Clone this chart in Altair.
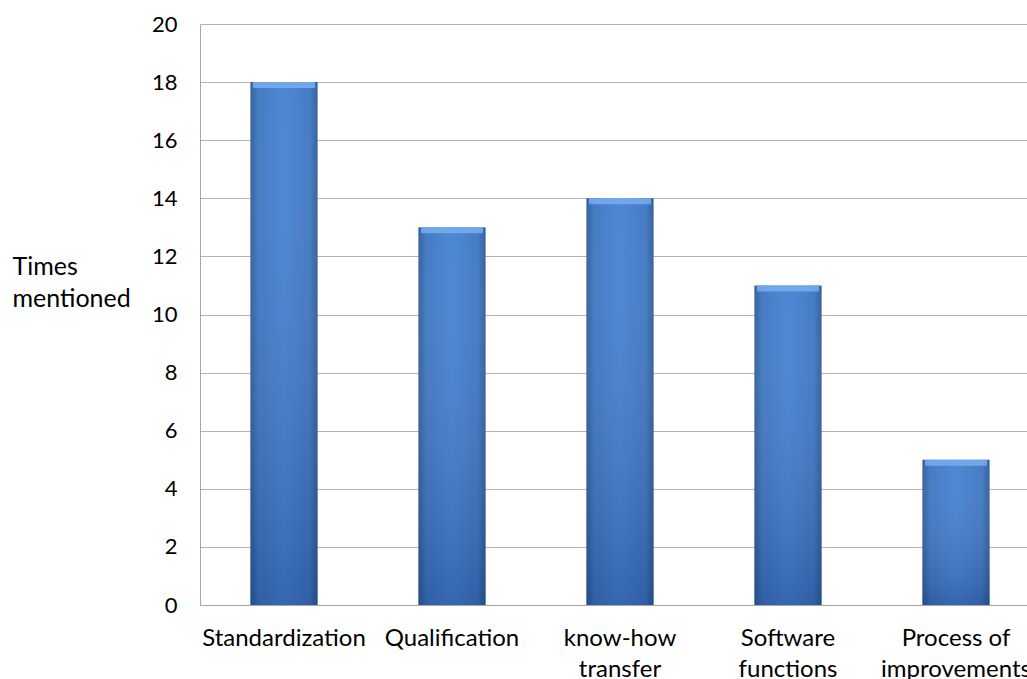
import altair as alt
import pandas as pd

categories = ["Standardization", "Qualification", "know-how transfer",
              "Software functions", "Process of improvements"]
label_lines = [["Standardization"], ["Qualification"], ["know-how", "transfer"],
               ["Software", "functions"], ["Process of", "improvements"]]
values = [18, 13, 14, 11, 5]
y_ticks = [0, 2, 4, 6, 8, 10, 12, 14, 16, 18, 20]
y_title = ["Times", "mentioned"]

df = pd.DataFrame({"category": categories, "value": values})

# label expression mapping categories to multi-line labels
expr = "''"
for cat, lines in reversed(list(zip(categories, label_lines))):
    arr = "[" + ",".join("'" + l + "'" for l in lines) + "]"
    expr = f"datum.value == '{cat}' ? {arr} : ({expr})"

FONT = "Lato"

xscale = alt.Scale(domain=categories, range=[0, 840], paddingInner=0.6, paddingOuter=0.3)
yscale = alt.Scale(domain=[0, 20], nice=False)

x_enc = alt.X("category:N", scale=xscale, sort=categories,
              axis=alt.Axis(title=None, labelExpr=expr, labelAngle=0, ticks=False,
                            labelPadding=21, labelLineHeight=31, labelFontSize=24,
                            labelFont=FONT, labelColor="#000000",
                            domainColor="#a6a6a6", grid=False, labelLimit=300))
y_enc = alt.Y("value:Q", scale=yscale,
              axis=alt.Axis(values=y_ticks, title=y_title, titleAngle=0, titleAlign="left",
                            titleBaseline="alphabetic", titleX=-188, titleY=250,
                            titleLineHeight=32, titleFontSize=25, titleFont=FONT,
                            titleFontWeight="normal", titleColor="#000000",
                            ticks=False, labelPadding=23, labelFontSize=22, labelFont=FONT,
                            labelColor="#000000", domainColor="#a6a6a6",
                            gridColor="#b3b3b3", gridWidth=1.2))

base = alt.Chart(df)

bars = base.mark_bar(
    color=alt.Gradient(gradient="linear", x1=0, x2=1, y1=0, y2=0,
                       stops=[alt.GradientStop(offset=0, color="#2c5a96"),
                              alt.GradientStop(offset=0.12, color="#3c75c2"),
                              alt.GradientStop(offset=0.5, color="#4381d2"),
                              alt.GradientStop(offset=0.88, color="#3c75c2"),
                              alt.GradientStop(offset=1, color="#2c5a96")])
).encode(x=x_enc, y=y_enc)

shade = base.mark_bar(
    color=alt.Gradient(gradient="linear", x1=0, x2=0, y1=0, y2=1,
                       stops=[alt.GradientStop(offset=0, color="rgba(255,255,255,0.05)"),
                              alt.GradientStop(offset=1, color="rgba(10,30,80,0.25)")])
).encode(x="category:N", y="value:Q")

bevel = base.mark_tick(thickness=6, yOffset=3, color="#79adef", opacity=0.85).encode(
    x="category:N", y="value:Q", size=alt.value(62))

chart = alt.layer(bars, shade, bevel).properties(
    width=827, height=581,
    autosize=alt.AutoSizeParams(type="none"),
    padding={"left": 200, "top": 24, "right": 0, "bottom": 74},
    background="#ffffff",
).configure_view(stroke=None)

chart.save("out.html", embed_options={"renderer": "svg", "actions": False})
